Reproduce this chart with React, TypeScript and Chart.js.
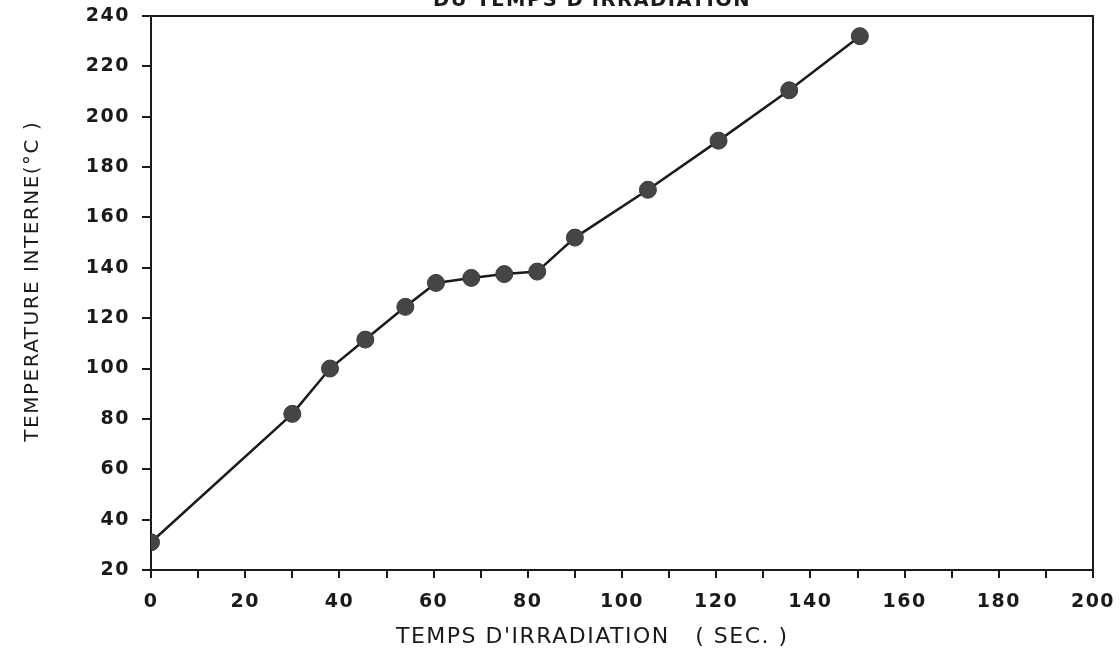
import { useEffect, useRef } from 'react';
import { Chart, registerables } from 'chart.js';

Chart.register(...registerables);

const timeSec = [0, 30, 38, 45.5, 54, 60.5, 68, 75, 82, 90, 105.5, 120.5, 135.5, 150.5];
const tempC = [31, 82, 100, 111.5, 124.5, 134, 136, 137.5, 138.5, 152, 171, 190.5, 210.5, 232];
const xTickLabels = [0, 20, 40, 60, 80, 100, 120, 140, 160, 180, 200];
const chartTitle = "           DU TEMPS D'IRRADIATION";
const xTitle = "TEMPS D'IRRADIATION   ( SEC. )       ";
const yTitle = '   TEMPERATURE INTERNE(°C )';

const INK = '#1a1a1a';
const SPACING = '1.5px';

const spacingPlugin = {
  id: 'spacing',
  beforeUpdate(chart: any) {
    (chart.ctx as any).letterSpacing = SPACING;
  },
  beforeDraw(chart: any) {
    (chart.ctx as any).letterSpacing = SPACING;
  },
};

const framePlugin = {
  id: 'frame',
  beforeDatasetsDraw(chart: any) {
    const { ctx, chartArea } = chart;
    ctx.save();
    ctx.strokeStyle = INK;
    ctx.lineWidth = 2;
    ctx.strokeRect(chartArea.left, chartArea.top, chartArea.right - chartArea.left, chartArea.bottom - chartArea.top);
    ctx.restore();
  },
};

export default function App() {
  const ref = useRef<HTMLCanvasElement>(null);

  useEffect(() => {
    if (!ref.current) return;
    const tickFont = { family: 'DejaVu Sans, sans-serif', size: 19, weight: 'bold' as const };
    const chart = new Chart(ref.current, {
      type: 'line',
      data: {
        datasets: [
          {
            data: timeSec.map((x, i) => ({ x, y: tempC[i] })),
            borderColor: INK,
            borderWidth: 2.5,
            pointRadius: 8.5,
            pointBackgroundColor: '#454545',
            pointBorderColor: '#3a3a3a',
            pointBorderWidth: 1,
            tension: 0,
            fill: false,
          },
        ],
      },
      options: {
        responsive: true,
        maintainAspectRatio: false,
        animation: false,
        layout: { padding: { left: 0, right: 27, top: 0, bottom: 0 } },
        plugins: {
          legend: { display: false },
          tooltip: { enabled: false },
          title: {
            display: true,
            text: chartTitle,
            color: INK,
            font: { family: 'DejaVu Sans, sans-serif', size: 19.5, weight: 'bold' },
            padding: { top: 19.5, bottom: 3.1 },
          },
        },
        scales: {
          x: {
            type: 'linear',
            min: 0,
            max: 200,
            afterFit: (s: any) => {
              s.height = 82;
              s.paddingRight = 0;
              s.paddingLeft = 0;
            },
            ticks: {
              stepSize: 10,
              autoSkip: false,
              maxRotation: 0,
              padding: 13,
              color: INK,
              font: tickFont,
              callback: (v: any) => (xTickLabels.includes(Number(v)) ? String(v) : ''),
            },
            grid: { drawOnChartArea: false, drawTicks: true, tickLength: 8, color: INK, lineWidth: 2 },
            border: { display: true, color: INK, width: 2 },
            title: {
              display: true,
              text: xTitle,
              color: INK,
              font: { family: 'DejaVu Sans, sans-serif', size: 22 },
              padding: { top: 0, bottom: 2 },
            },
          },
          y: {
            type: 'linear',
            min: 20,
            max: 240,
            afterFit: (s: any) => {
              s.width = 151;
            },
            ticks: {
              stepSize: 20,
              padding: 12,
              color: INK,
              font: tickFont,
            },
            grid: { drawOnChartArea: false, drawTicks: true, tickLength: 9, color: INK, lineWidth: 2 },
            border: { display: true, color: INK, width: 2 },
            title: {
              display: true,
              text: yTitle,
              color: INK,
              font: { family: 'DejaVu Sans, sans-serif', size: 20 },
              padding: { top: 21, bottom: 0 },
            },
          },
        },
      },
      plugins: [spacingPlugin, framePlugin],
    });
    return () => chart.destroy();
  }, []);

  return (
    <div style={{ position: 'absolute', left: 0, top: -30, width: 1120, height: 682, background: '#fff' }}>
      <canvas ref={ref} />
    </div>
  );
}
